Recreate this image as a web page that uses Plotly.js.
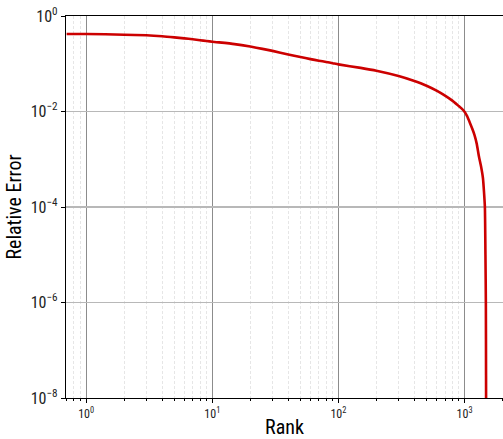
<!DOCTYPE html>
<html>
<head>
<meta charset="utf-8">
<script src="https://cdn.plot.ly/plotly-3.0.1.min.js"></script>
<style>html,body{margin:0;padding:0;background:#fff;}#chart{width:503px;height:439px;}</style>
</head>
<body>
<div id="chart"></div>
<script>
const rank = [0.7, 1, 2, 3, 4, 5, 6, 7, 8, 9, 10, 15, 20, 25, 30, 40, 50, 60, 70, 80, 90, 100, 150, 200, 300, 400, 500, 600, 700, 800, 900, 950, 1000, 1050, 1100, 1150, 1200, 1250, 1300, 1350, 1400, 1430, 1450, 1465, 1476, 1481, 1484];
const relError = [0.420, 0.420, 0.406, 0.394, 0.376, 0.357, 0.340, 0.325, 0.311, 0.300, 0.290, 0.258, 0.229, 0.205, 0.186, 0.157, 0.138, 0.125, 0.116, 0.109, 0.1025, 0.097, 0.082, 0.0716, 0.0554, 0.0435, 0.0347, 0.0273, 0.0215, 0.0169, 0.0130, 0.0115, 0.0099, 0.0079, 0.0059, 0.0044, 0.0032, 0.0021, 0.00115, 0.00072, 0.00040, 0.00019, 0.0001, 0.00001, 0.000001, 0.00000003, 0.000000001];

const xTickVals = [1, 10, 100, 1000];
const xTickText = ['10<sup>0</sup>', '10<sup>1</sup>', '10<sup>2</sup>', '10<sup>3</sup>'];
const yTickVals = [1e-8, 1e-6, 1e-4, 1e-2, 1];
const yTickText = ['10<sup>\u22128</sup>', '10<sup>\u22126</sup>', '10<sup>\u22124</sup>', '10<sup>\u22122</sup>', '10<sup>0</sup>'];

const FONT = '"Roboto Condensed", "Liberation Sans Narrow", "DejaVu Sans Condensed", Roboto, sans-serif';

const trace = {
  x: rank, y: relError, type: 'scatter', mode: 'lines',
  line: {color: '#cc0000', width: 2.6, shape: 'spline', smoothing: 0.6},
  hoverinfo: 'skip'
};

const layout = {
  width: 503, height: 439,
  margin: {l: 66, r: 0, t: 16, b: 41},
  paper_bgcolor: '#fff', plot_bgcolor: '#fff',
  showlegend: false,
  font: {family: FONT, color: '#000'},
  xaxis: {
    type: 'log', range: [-0.16, 3.305],
    tickmode: 'array', tickvals: xTickVals, ticktext: xTickText,
    showline: true, linecolor: '#000', linewidth: 1.2, mirror: true,
    ticks: 'outside', ticklen: 4, tickcolor: '#000', tickwidth: 1,
    tickfont: {size: 12, family: FONT, color: '#222'},
    showgrid: true, gridcolor: '#8c8c8c', gridwidth: 1,
    zeroline: false,
    minor: {dtick: 'D1', ticks: 'outside', ticklen: 2, tickcolor: '#000', showgrid: true, gridcolor: '#e6e6e6', gridwidth: 1, griddash: '3px,2px'},
    title: {text: 'Rank', font: {size: 20, family: FONT}, standoff: 6}
  },
  yaxis: {
    type: 'log', range: [-8, 0],
    tickmode: 'array', tickvals: yTickVals, ticktext: yTickText,
    showline: true, linecolor: '#000', linewidth: 1.2,
    ticks: 'outside', ticklen: 4, tickcolor: '#000', tickwidth: 1,
    tickfont: {size: 16, family: FONT, color: '#222'},
    showgrid: true, gridcolor: '#b8b8b8', gridwidth: 1.2,
    zeroline: false,
    title: {text: 'Relative Error', font: {size: 20, family: FONT}, standoff: 3}
  }
};

Plotly.newPlot('chart', [trace], layout, {displayModeBar: false, staticPlot: true});
</script>
</body>
</html>
